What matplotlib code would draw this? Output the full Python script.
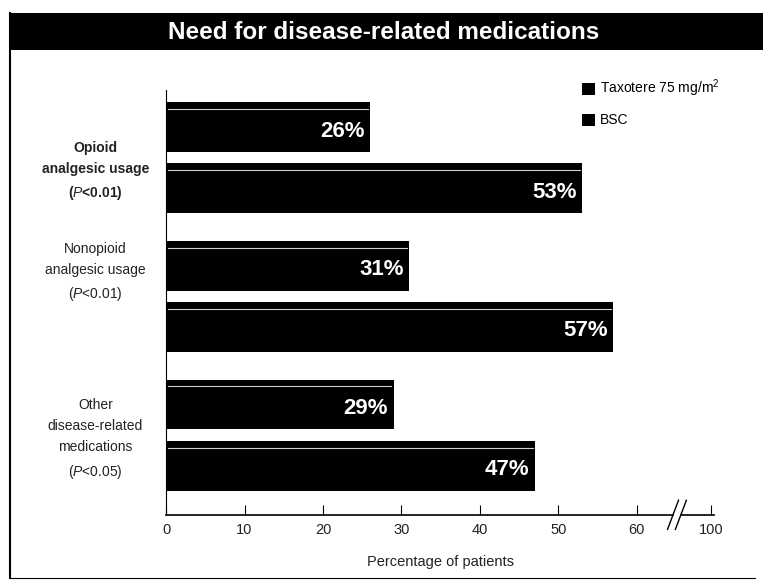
import matplotlib.pyplot as plt
from matplotlib.patches import Rectangle
from matplotlib.lines import Line2D
import numpy as np

categories = ["Opioid\nanalgesic usage\n($P$<0.01)",
              "Nonopioid\nanalgesic usage\n($P$<0.01)",
              "Other\ndisease-related\nmedications\n($P$<0.05)"]
taxotere = [26, 31, 29]
bsc = [53, 57, 47]
tick_vals = [0, 10, 20, 30, 40, 50, 60]
tick_labels = ["0", "10", "20", "30", "40", "50", "60"]
top_label = "100"
top_pos = 69.5   # where 100 sits after the axis break

plt.rcParams['font.family'] = ["Liberation Sans", "DejaVu Sans"]
plt.rcParams['mathtext.fontset'] = "custom"
plt.rcParams['mathtext.it'] = "Liberation Sans:italic"
plt.rcParams['mathtext.rm'] = "Liberation Sans"

fig = plt.figure(figsize=(7.63, 5.85), dpi=100)

# frame + title bar
fig.add_artist(Rectangle((0.012, 0.915), 0.988, 0.062, transform=fig.transFigure,
                         facecolor="black", edgecolor="none"))
fig.text(0.503, 0.944, "Need for disease-related medications", color="white",
         fontsize=17.5, fontweight="bold", ha="center", va="center")
fig.add_artist(Line2D([0.013, 0.013], [0.012, 0.977], transform=fig.transFigure,
                      color="black", lw=1.5))
fig.add_artist(Line2D([0.013, 0.99], [0.012, 0.012], transform=fig.transFigure,
                      color="black", lw=0.8))

ax = fig.add_axes([0.2176, 0.1197, 0.720, 0.7265])
y = np.arange(len(categories))
off = 0.22
h = 0.36
ax.barh(y - off, taxotere, height=h, color="black", label="Taxotere 75 mg/m$^2$")
ax.barh(y + off, bsc, height=h, color="black", label="BSC")

# thin light seam near the top edge of each bar
for yc, vals in ((y - off, taxotere), (y + off, bsc)):
    for yi, v in zip(yc, vals):
        ax.plot([0.3, v - 0.3], [yi - h / 2 + 0.05] * 2, color="#d0d0d0", lw=0.8)

for yi, v in zip(y - off, taxotere):
    ax.text(v - 0.7, yi + 0.03, f"{v}%", color="white", fontsize=16, fontweight="bold",
            ha="right", va="center")
for yi, v in zip(y + off, bsc):
    ax.text(v - 0.7, yi + 0.03, f"{v}%", color="white", fontsize=16, fontweight="bold",
            ha="right", va="center")

ax.set_xlim(0, 70)
ax.set_ylim(2.576, -0.486)
ax.spines["top"].set_visible(False)
ax.spines["right"].set_visible(False)
ax.spines["bottom"].set_visible(False)
ax.spines["left"].set_linewidth(0.8)

# bottom axis with break
ax.plot([0, 64.6], [2.576, 2.576], color="black", lw=1.2, clip_on=False)
ax.plot([65.6, top_pos + 0.3], [2.576, 2.576], color="black", lw=1.2, clip_on=False)
for dx in (63.9, 64.9):
    ax.plot([dx, dx + 1.4], [2.68, 2.47], color="black", lw=1, clip_on=False)

ax.set_xticks(tick_vals + [top_pos])
ax.set_xticklabels(tick_labels + [top_label], fontsize=10.5, color="#222222")
ax.tick_params(axis="x", direction="in", length=7, width=0.8, pad=6)
ax.set_yticks([])
ax.set_xlabel("Percentage of patients", fontsize=10.5, labelpad=13, color="#222222")

# group labels sit a little off the group centres
label_shift = [0.10, -0.17, 0.03]
label_weights = ["bold", "normal", "normal"]
for yi, lab, w, s in zip(y, categories, label_weights, label_shift):
    ax.text(-9.0, yi + s, lab, ha="center", va="center", fontsize=10,
            fontweight=w, linespacing=1.65, color="#222222")

ax.legend(loc="upper right", bbox_to_anchor=(1.03, 1.058), frameon=False, fontsize=10,
          handlelength=0.95, handleheight=0.95, handletextpad=0.35, labelspacing=1.0)

fig.savefig("out.png", dpi=100)
